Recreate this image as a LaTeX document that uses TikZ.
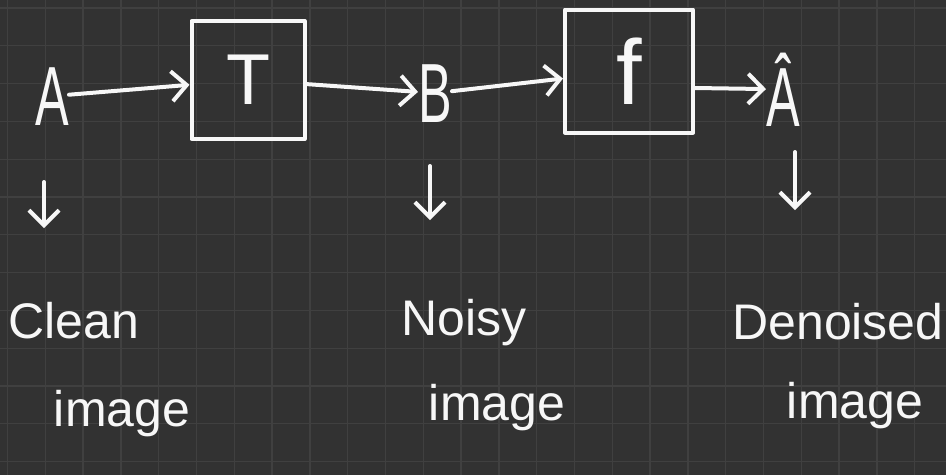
\documentclass[tikz,border=0pt]{standalone}
\usepackage{graphicx}
\usepackage{fontspec}
\setmainfont{Liberation Sans}
\usetikzlibrary{arrows.meta}
\definecolor{bgc}{HTML}{323232}
\definecolor{gridc}{HTML}{404040}
\definecolor{inkc}{HTML}{F7F7F7}
\begin{document}
\begin{tikzpicture}[x=1pt,y=-1pt,
  ink/.style={draw=inkc, line width=4pt, line cap=round, line join=round},
  arr/.style={ink, -{Straight Barb[length=15pt,width=30pt]}},
  box/.style={ink, rectangle, inner sep=0pt, text=inkc},
  letter/.style={text=inkc, inner sep=0pt, font=\fontsize{84}{84}\selectfont},
  lbl/.style={text=inkc, inner sep=0pt, font=\fontsize{50}{56}\selectfont},
  gridline/.style={draw=gridc, line width=1.3pt}]
\fill[bgc] (0,0) rectangle (946,475);
\useasboundingbox (0,0) rectangle (946,475);
\foreach \i in {0,...,24} \draw[gridline] ({7.5+37.8*\i},0) -- ({7.5+37.8*\i},475);
\foreach \j in {0,...,12} \draw[gridline] (0,{8+37.8*\j}) -- (946,{8+37.8*\j});

% main chain
\node[letter, anchor=base] (A) at (52,125) {\scalebox{0.6}[1]{A}};
\node[box, minimum width=113pt, minimum height=118pt, font=\fontsize{72}{72}\selectfont] (T) at (248,80) {T};
\node[letter, anchor=base] (B) at (435,122) {\scalebox{0.6}[1]{B}};
\node[box, minimum width=128pt, minimum height=123pt, font=\fontsize{92}{92}\selectfont] (f) at (629,71) {f};
\node[letter, anchor=base] (Ah) at (783,126) {\scalebox{0.6}[1]{Â}};

\draw[arr] (A) -- (T);
\draw[arr] (T) -- (B);
\draw[arr] (B) -- (f);
\draw[arr] ([yshift=-17pt]f.east) -- (Ah);

% down arrows
\coordinate (dA1) at (44,182); \coordinate (dA2) at (44,228);
\coordinate (dB1) at (430,166); \coordinate (dB2) at (430,220);
\coordinate (dC1) at (795,152); \coordinate (dC2) at (795,210);
\draw[arr] (dA1) -- (dA2);
\draw[arr] (dB1) -- (dB2);
\draw[arr] (dC1) -- (dC2);

% labels
\node[lbl, anchor=base] (clean) at (74,338) {Clean};
\node[lbl, anchor=base] (img1) at (122,426) {image};
\node[lbl, anchor=base] (noisy) at (464,335) {Noisy};
\node[lbl, anchor=base] (img2) at (497,420) {image};
\node[lbl, anchor=base] (den) at (838,339) {Denoised};
\node[lbl, anchor=base] (img3) at (855,418) {image};
\end{tikzpicture}
\end{document}
